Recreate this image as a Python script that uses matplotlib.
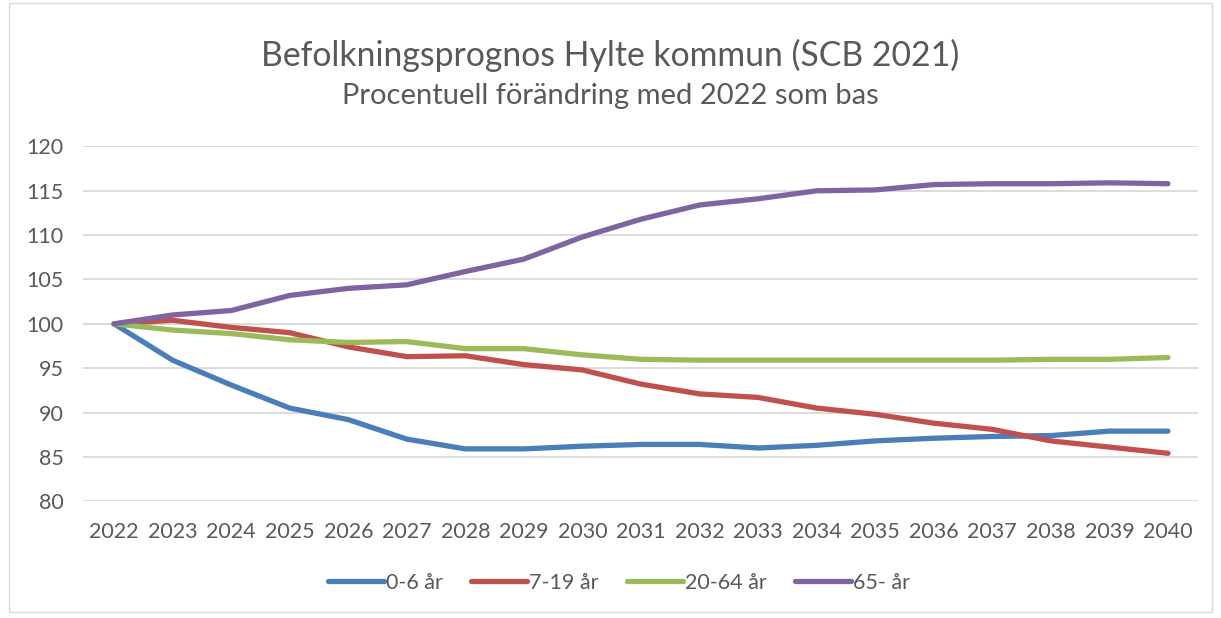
import matplotlib
matplotlib.use('Agg')
import matplotlib.pyplot as plt
from matplotlib.patches import Rectangle

plt.rcParams['font.family'] = ['Lato', 'DejaVu Sans']

years = list(range(2022, 2041))
barn = [100, 95.9, 93.1, 90.5, 89.2, 87.0, 85.9, 85.9, 86.2, 86.4,
        86.4, 86.0, 86.3, 86.8, 87.1, 87.3, 87.4, 87.9, 87.9]
skola = [100, 100.4, 99.6, 99.0, 97.4, 96.3, 96.4, 95.4, 94.8, 93.2,
         92.1, 91.7, 90.5, 89.8, 88.8, 88.1, 86.8, 86.1, 85.4]
arbete = [100, 99.3, 98.9, 98.2, 97.9, 98.0, 97.2, 97.2, 96.5, 96.0,
          95.9, 95.9, 95.9, 95.9, 95.9, 95.9, 96.0, 96.0, 96.2]
aldre = [100, 101.0, 101.5, 103.2, 104.0, 104.4, 105.9, 107.3, 109.8, 111.8,
         113.4, 114.1, 115.0, 115.1, 115.7, 115.8, 115.8, 115.9, 115.8]

serier = [('0-6 år', barn, '#4A7EBB'),
          ('7-19 år', skola, '#C0504D'),
          ('20-64 år', arbete, '#9BBB59'),
          ('65- år', aldre, '#8064A2')]

grey = '#595959'

fig = plt.figure(figsize=(12.21, 6.18), dpi=100)
ax = fig.add_axes([0.068, 0.189, 0.913, 0.574])

for namn, v, c in serier:
    ax.plot(years, v, color=c, lw=3.8, label=namn, solid_capstyle='round')

ax.set_xlim(2021.47, 2040.51)
ax.set_ylim(80, 120)
ax.set_xticks(years)
ax.set_yticks(range(80, 121, 5))
ax.grid(axis='y', color='#D9D9D9', lw=1.3)
ax.set_axisbelow(True)
for s in ax.spines.values():
    s.set_visible(False)
ax.tick_params(length=0, colors=grey, labelsize=15.5)
ax.tick_params(axis='x', pad=15)
ax.tick_params(axis='y', pad=14)

fig.text(0.5, 0.911, 'Befolkningsprognos Hylte kommun (SCB 2021)',
         ha='center', va='center', fontsize=24.3, color=grey)
fig.text(0.5, 0.845, 'Procentuell förändring med 2022 som bas',
         ha='center', va='center', fontsize=21, color=grey)

leg = fig.legend(loc='center', bbox_to_anchor=(0.507, 0.057), ncol=4,
                 frameon=False, fontsize=15.5, handlelength=2.6,
                 handletextpad=0.1, columnspacing=1.3)
for t in leg.get_texts():
    t.set_color(grey)

fig.patches.append(Rectangle((0.007, 0.01), 0.986, 0.985, transform=fig.transFigure,
                             fill=False, edgecolor='#D9D9D9', lw=1))

fig.savefig('out.png', dpi=100)
